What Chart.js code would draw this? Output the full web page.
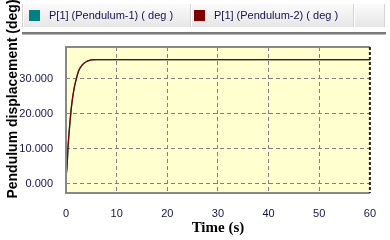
<!DOCTYPE html>
<html><head><meta charset="utf-8">
<script src="https://cdn.jsdelivr.net/npm/chart.js@4/dist/chart.umd.min.js"></script>
<style>html,body{margin:0;padding:0;background:#fff;}#wrap{width:390px;height:240px;}</style>
</head><body><div id="wrap"><canvas id="c" width="390" height="240"></canvas></div>
<script>
const timeS = [0, 0.2, 0.4, 0.6, 0.8, 1.0, 1.2, 1.4, 1.7, 2.0, 2.5, 3.0, 3.5, 4.0, 4.5, 5.0, 6.0, 8.0, 60];
const pendulum1Deg = [2.0, 5.0, 10.5, 14.5, 18.0, 21.0, 23.5, 25.5, 28.0, 29.8, 32.3, 33.6, 34.4, 34.9, 35.2, 35.4, 35.5, 35.5, 35.5];
const pendulum2Deg = [2.0, 5.0, 10.5, 14.5, 18.0, 21.0, 23.5, 25.5, 28.0, 29.8, 32.3, 33.6, 34.4, 34.9, 35.2, 35.4, 35.5, 35.5, 35.5];
const seriesLabels = ['P[1] (Pendulum-1) ( deg )', 'P[1] (Pendulum-2) ( deg )'];
const seriesColors = ['#008080', '#800000'];
const xTicks = [0, 10, 20, 30, 40, 50, 60];
const yTicks = [0, 10, 20, 30];
const xTitle = 'Time (s)';
const yTitle = 'Pendulum displacement (deg)';

const tickColor = '#14144e';
const tickFont = {family: 'Liberation Sans', size: 11};

const frame = {
  id: 'frame',
  beforeDraw(chart) {
    const ctx = chart.ctx, a = chart.chartArea;
    ctx.save();
    ctx.fillStyle = '#ffffff';
    ctx.fillRect(0, 0, chart.width, chart.height);
    // legend bar
    const g = ctx.createLinearGradient(0, 4, 0, 27);
    g.addColorStop(0, '#fbfbfb'); g.addColorStop(1, '#e6e6e6');
    ctx.fillStyle = g;
    ctx.fillRect(22, 4, 362, 23);
    ctx.fillStyle = '#ffffff';
    ctx.fillRect(22, 27, 362, 1);
    ctx.fillStyle = '#d4d4d4';
    [22, 190, 353, 384].forEach(x => ctx.fillRect(x, 4, 1, 23));
    ctx.fillStyle = '#ffffff';
    [23, 191, 354].forEach(x => ctx.fillRect(x, 4, 1, 23));
    ctx.fillStyle = '#7a7a7a';
    ctx.fillRect(22, 32, 364, 2);
    ctx.fillStyle = '#b8b8b8';
    ctx.fillRect(22, 34, 364, 1);
    // legend items
    const boxX = [29, 194], textX = [49, 214];
    ctx.font = '11px "Liberation Sans"';
    ctx.textBaseline = 'middle';
    for (let i = 0; i < seriesLabels.length; i++) {
      ctx.fillStyle = seriesColors[i];
      ctx.fillRect(boxX[i], 10, 11, 11);
      ctx.fillStyle = tickColor;
      ctx.fillText(seriesLabels[i], textX[i], 16);
    }
    // plot background
    ctx.fillStyle = '#ffffd0';
    ctx.fillRect(a.left, a.top, a.right - a.left, a.bottom - a.top);
    // y title
    ctx.translate(13, 99);
    ctx.rotate(-Math.PI / 2);
    ctx.fillStyle = '#000000';
    ctx.font = 'bold 14px "Liberation Sans"';
    ctx.textAlign = 'center';
    ctx.textBaseline = 'middle';
    ctx.fillText(yTitle, 0, 0);
    ctx.restore();
  },
  afterDraw(chart) {
    const ctx = chart.ctx, a = chart.chartArea;
    ctx.save();
    ctx.strokeStyle = '#888888';
    ctx.lineWidth = 2;
    ctx.beginPath();
    ctx.moveTo(a.right, a.top); ctx.lineTo(a.left, a.top); ctx.lineTo(a.left, a.bottom); ctx.lineTo(a.right, a.bottom);
    ctx.stroke();
    ctx.strokeStyle = '#202020';
    ctx.setLineDash([3, 2]);
    ctx.beginPath();
    ctx.moveTo(a.right, a.top); ctx.lineTo(a.right, a.bottom);
    ctx.stroke();
    ctx.restore();
  }
};

const toXY = arr => timeS.map((t, i) => ({x: t, y: arr[i]}));

new Chart(document.getElementById('c'), {
  type: 'line',
  plugins: [frame],
  data: {
    datasets: [
      {label: seriesLabels[0], data: toXY(pendulum1Deg), order: 2, borderColor: seriesColors[0], backgroundColor: seriesColors[0], borderWidth: 1.3, pointRadius: 0, cubicInterpolationMode: 'monotone'},
      {label: seriesLabels[1], data: toXY(pendulum2Deg), order: 1, borderColor: seriesColors[1], backgroundColor: seriesColors[1], borderWidth: 1.3, pointRadius: 0, cubicInterpolationMode: 'monotone'}
    ]
  },
  options: {
    responsive: false,
    animation: false,
    devicePixelRatio: 1,
    layout: {padding: {left: 0, right: 4, top: 47, bottom: 0}},
    plugins: {legend: {display: false}, tooltip: {enabled: false}},
    scales: {
      x: {
        type: 'linear', min: 0, max: 60,
        afterFit(s) { s.height = 47; },
        afterBuildTicks(s) { s.ticks = xTicks.map(v => ({value: v})); },
        ticks: {color: tickColor, font: tickFont, padding: 14, maxRotation: 0},
        grid: {color: ctx => (ctx.tick && (ctx.tick.value === 0 || ctx.tick.value === 60)) ? 'rgba(0,0,0,0)' : '#808080', lineWidth: 1, drawTicks: false},
        border: {display: false, dash: [4, 3]},
        title: {display: true, text: xTitle, color: '#000000', font: {family: 'Liberation Serif', size: 15, weight: 'bold'}, padding: {top: 0, bottom: 3}}
      },
      y: {
        type: 'linear', min: -2.6, max: 39.1,
        afterFit(s) { s.width = 66; },
        afterBuildTicks(s) { s.ticks = yTicks.map(v => ({value: v})); },
        ticks: {color: tickColor, font: tickFont, padding: 13, callback: v => Number(v).toFixed(3)},
        grid: {color: '#808080', lineWidth: 1, drawTicks: false},
        border: {display: false, dash: [4, 3]}
      }
    }
  }
});
</script>
</body></html>
